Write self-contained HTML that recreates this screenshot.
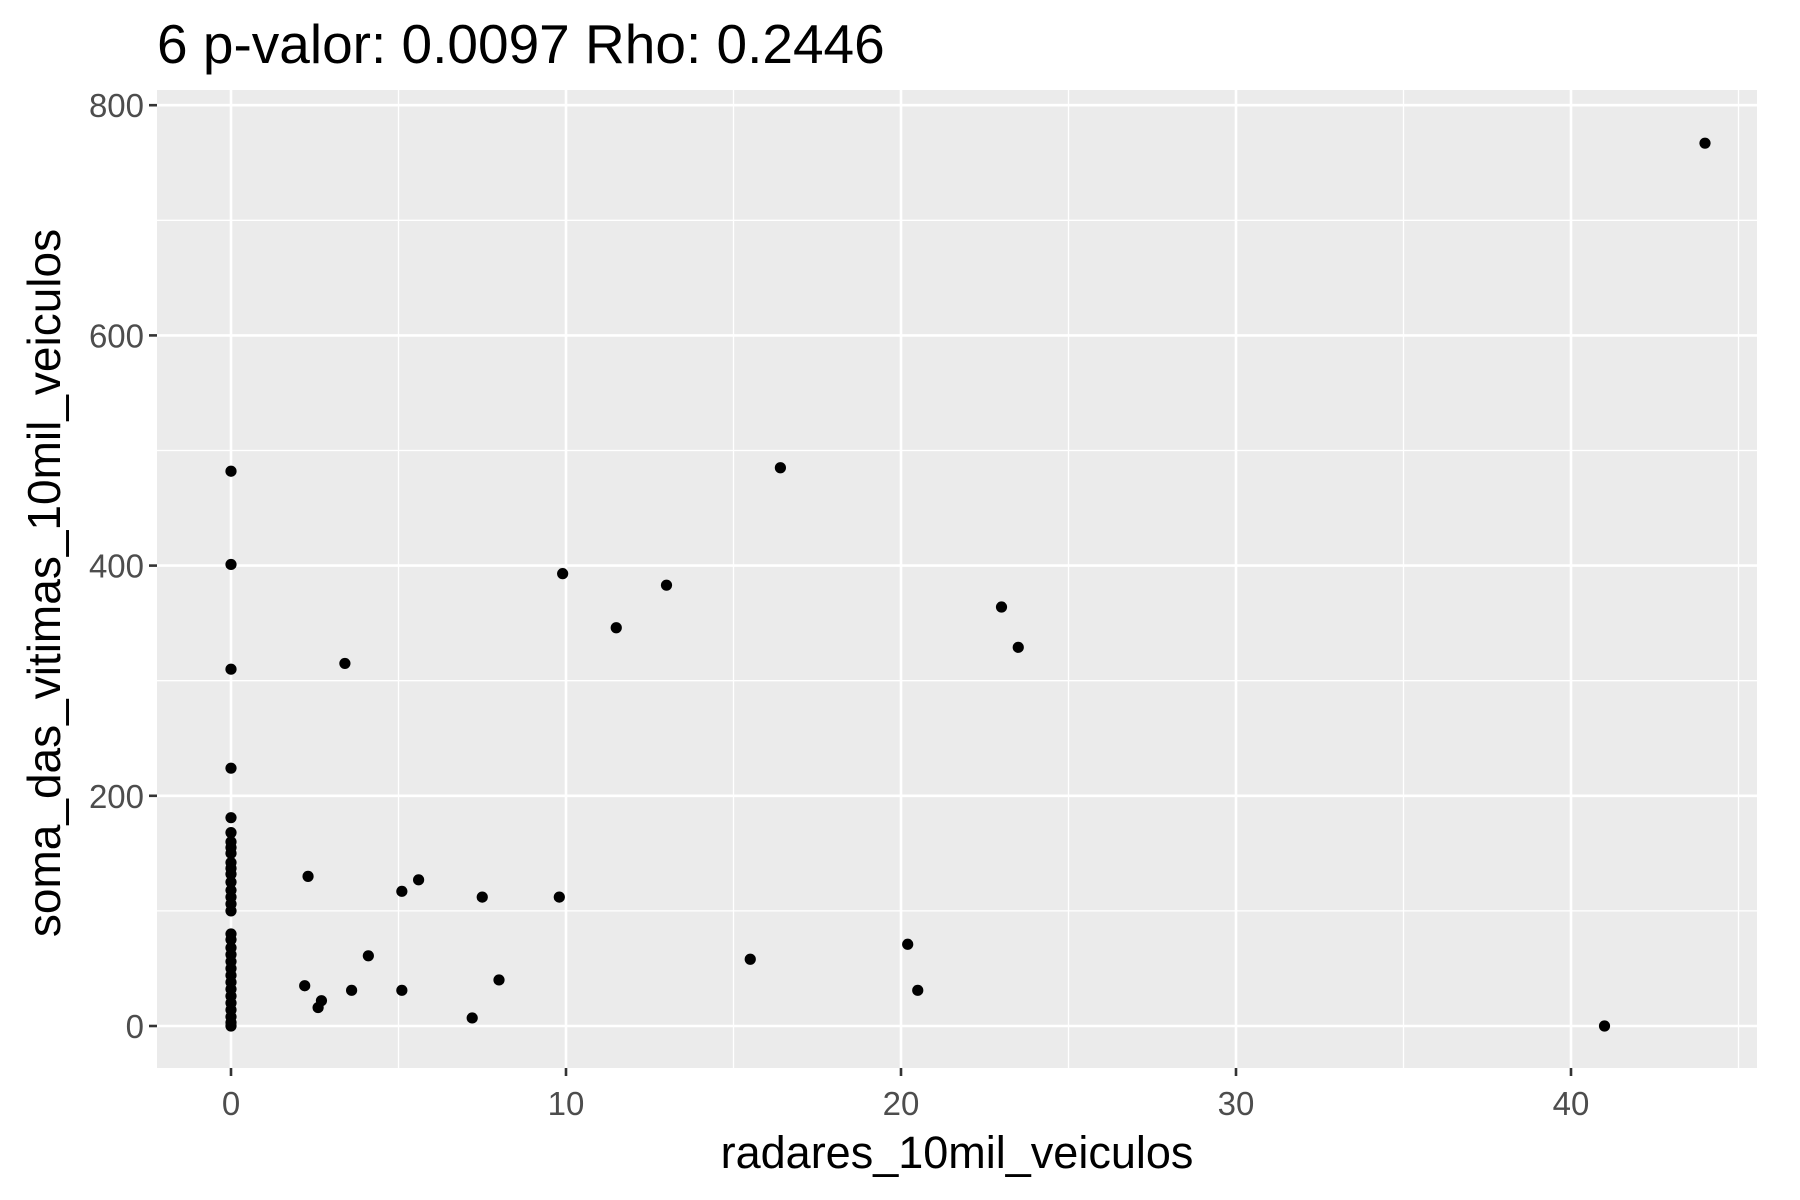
<!DOCTYPE html>
<html><head><meta charset="utf-8"><style>
body{margin:0;background:#fff;}
svg{display:block;font-family:"Liberation Sans",sans-serif;}
</style></head><body>
<svg id="chart" width="1800" height="1200" viewBox="0 0 1800 1200">
<text x="157" y="63" font-size="55" fill="#000">6 p-valor: 0.0097 Rho: 0.2446</text>
<rect x="157" y="90" width="1600" height="978" fill="#ebebeb"/>
<g id="grid"></g>
<g id="axes"></g>
<g id="points"></g>
<text x="957" y="1168" font-size="45" text-anchor="middle" fill="#000">radares_10mil_veiculos</text>
<text transform="translate(60,583) rotate(-90)" font-size="46" text-anchor="middle" fill="#000">soma_das_vitimas_10mil_veiculos</text>
</svg>
<script>
const xTicks=[0,10,20,30,40];
const xMinor=[5,15,25,35,45];
const yTicks=[0,200,400,600,800];
const yMinor=[100,300,500,700];
const xVals=[44,41.0,16.4,9.9,13,11.5,23,23.5,3.4,2.3,5.6,5.1,7.5,9.8,4.1,15.5,20.2,2.2,2.7,2.6,3.6,5.1,8.0,7.2,20.5,
0,0,0,0,0,0,0,0,0,0,0,0,0,0,0,0,0,0,0,0,0,0,0,0,0,0,0,0,0,0,0,0];
const yVals=[767,0,485,393,383,346,364,329,315,130,127,117,112,112,61,58,71,35,22,16,31,31,40,7,31,
482,401,310,224,181,168,160,155,150,142,137,132,125,118,112,106,100,80,75,68,62,56,50,44,38,32,26,20,14,8,3,0];
const NS='http://www.w3.org/2000/svg';
const L=157,R=1757,T=90,B=1068;
function sx(v){return 231+33.5*v;}
function sy(v){return 1026-1.151*v;}
function mk(t,a,p){const e=document.createElementNS(NS,t);for(const k in a)e.setAttribute(k,a[k]);p.appendChild(e);return e;}
const g=document.getElementById('grid'),ax=document.getElementById('axes'),pt=document.getElementById('points');
xMinor.forEach(v=>{const l=mk('line',{x1:sx(v),x2:sx(v),y1:T,y2:B,stroke:'#fff','stroke-width':1.3},g);

});
yMinor.forEach(v=>{const l=mk('line',{x1:L,x2:R,y1:sy(v),y2:sy(v),stroke:'#fff','stroke-width':1.3},g);

});
xTicks.forEach(v=>{const l=mk('line',{x1:sx(v),x2:sx(v),y1:T,y2:B,stroke:'#fff','stroke-width':2.6},g);


const t=mk('line',{x1:sx(v),x2:sx(v),y1:B,y2:B+8,stroke:'#333','stroke-width':2.6},ax);


const tx=mk('text',{x:sx(v),y:B+47,'font-size':33,'text-anchor':'middle',fill:'#4d4d4d'},ax);tx.textContent=v;

});
yTicks.forEach(v=>{const l=mk('line',{x1:L,x2:R,y1:sy(v),y2:sy(v),stroke:'#fff','stroke-width':2.6},g);


const t=mk('line',{x1:L-8,x2:L,y1:sy(v),y2:sy(v),stroke:'#333','stroke-width':2.6},ax);


const tx=mk('text',{x:L-13,y:sy(v)+12,'font-size':33,'text-anchor':'end',fill:'#4d4d4d'},ax);tx.textContent=v;

});
xVals.forEach((v,i)=>{const c=mk('circle',{cx:sx(v),cy:sy(yVals[i]),r:5.6,fill:'#000'},pt);

});
</script>
</body></html>
